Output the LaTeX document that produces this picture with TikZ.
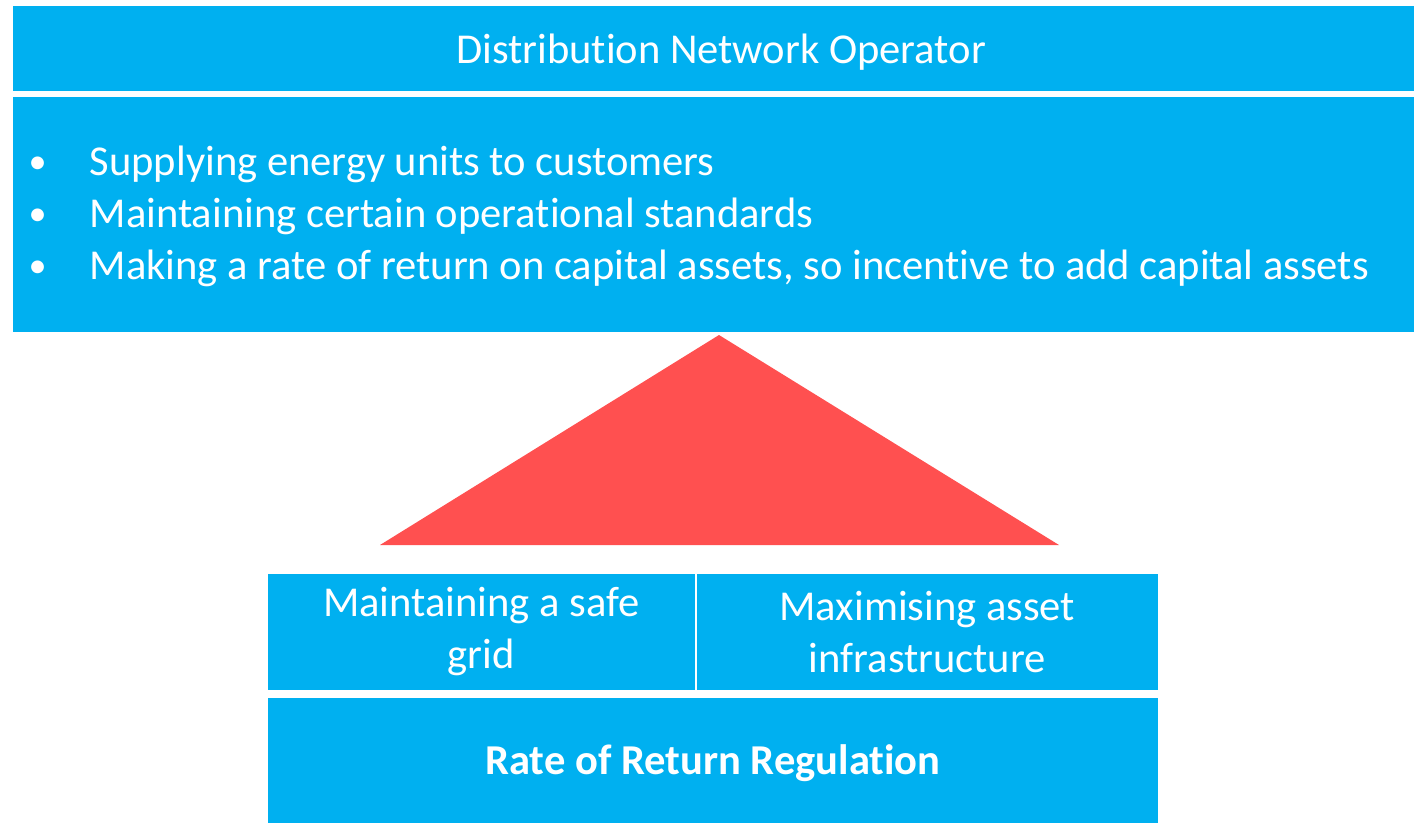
\documentclass[tikz,border=0pt]{standalone}
\usepackage{fontspec}
\setmainfont{Carlito}[Ligatures=NoCommon]
\usetikzlibrary{positioning}
\definecolor{boxcolor}{RGB}{0,176,240}
\definecolor{roofcolor}{RGB}{255,80,80}
\newcommand{\dutybullet}{\makebox[0.61cm][l]{\raisebox{0.02cm}{\scalebox{0.85}{\textbullet}}}}

\begin{document}
\begin{tikzpicture}[x=0.01cm, y=-0.01cm, every node/.style={scale=1},
    box/.style={fill=boxcolor, text=white, inner sep=0pt, font=\fontsize{12.1}{14.8}\selectfont}]
    \useasboundingbox (0,0) rectangle (1414,823);

    % top: operator and its duties
    \node[box, anchor=north west, minimum width=14.16cm, minimum height=0.85cm, text height=0.36cm, text depth=0.05cm] (dno) at (12,5) {Distribution Network Operator};
    \node[box, anchor=north west, minimum width=14.16cm, minimum height=2.35cm, text width=13.84cm, align=flush left, inner xsep=0.16cm, text height=0.30cm, text depth=1.07cm] (duties) at (12,96)
        {\dutybullet Supplying energy units to customers\\
         \dutybullet Maintaining certain operational standards\\
         \dutybullet Making a rate of return on capital assets, so incentive to add capital assets};

    % roof
    \fill[roofcolor] (719,335) -- (1059,545) -- (380,545) -- cycle;

    % pillars and base
    \node[box, anchor=north west, minimum width=4.27cm, minimum height=1.16cm, align=center] (safe) at (267,573) {Maintaining a safe\\grid};
    \node[box, anchor=north west, minimum width=4.61cm, minimum height=1.16cm, align=center] (assets) at (696,573) {Maximising asset\\infrastructure};
    \node[box, anchor=north west, minimum width=8.90cm, minimum height=1.25cm, text height=0.36cm, text depth=0.07cm] (ror) at (267,697) {\bfseries Rate of Return Regulation};
\end{tikzpicture}
\end{document}
